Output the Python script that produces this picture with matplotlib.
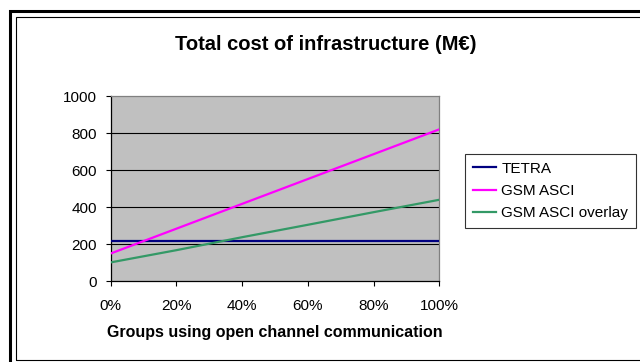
import matplotlib
matplotlib.use("Agg")
import matplotlib.pyplot as plt
from matplotlib.patches import Rectangle
from matplotlib.ticker import PercentFormatter

plt.rcParams['font.family'] = ['Liberation Sans', 'DejaVu Sans']

# share of groups using open channel communication (%)
groups = [0, 20, 40, 60, 80, 100]

# total cost of infrastructure, M€
tetra = [215, 215, 215, 215, 215, 215]
gsm_asci = [150, 284, 418, 552, 686, 820]
gsm_asci_overlay = [102, 168, 238, 305, 373, 440]

series_names = ["TETRA", "GSM ASCI", "GSM ASCI overlay"]
series_colors = ["#000080", "#FF00FF", "#339966"]

y_ticks = [0, 200, 400, 600, 800, 1000]


def px_x(x):
    return x / 640.0


def px_y(y):
    return 1 - y / 362.0


def draw_frame(fig):
    # double border round the whole chart (runs off the right and bottom edge)
    outer = Rectangle((px_x(9.7), px_y(380)), px_x(660) - px_x(9.7), px_y(10.8) - px_y(380),
                      transform=fig.transFigure, fill=False, edgecolor="black",
                      linewidth=2.2, clip_on=False)
    inner = Rectangle((px_x(15.7), px_y(359.8)), px_x(660) - px_x(15.7), px_y(17) - px_y(359.8),
                      transform=fig.transFigure, fill=False, edgecolor="black",
                      linewidth=0.8, clip_on=False)
    fig.patches.append(outer)
    fig.patches.append(inner)


def plot_chart():
    fig = plt.figure(figsize=(6.4, 3.62), dpi=100)
    ax = fig.add_axes([px_x(110.7), px_y(281.3), px_x(439.3) - px_x(110.7), px_y(96) - px_y(281.3)])
    ax.set_facecolor("#C0C0C0")

    for yv in y_ticks[1:-1]:
        ax.axhline(yv, color="black", linewidth=0.8, zorder=1)

    data = [tetra, gsm_asci, gsm_asci_overlay]
    for vals, name, col in zip(data, series_names, series_colors):
        ax.plot(groups, vals, color=col, linewidth=1.6, label=name, zorder=3)

    ax.set_xlim(0, 100)
    ax.set_ylim(0, 1000)
    ax.set_xticks(groups)
    ax.set_yticks(y_ticks)
    ax.xaxis.set_major_formatter(PercentFormatter(decimals=0))
    ax.tick_params(axis='x', length=3.5, width=0.8, pad=9.5, labelsize=11)
    ax.tick_params(axis='y', length=3.5, width=0.8, pad=6.5, labelsize=11)

    ax.spines['left'].set_color("black")
    ax.spines['bottom'].set_color("black")
    ax.spines['top'].set_color("#808080")
    ax.spines['right'].set_color("#808080")
    for s in ax.spines.values():
        s.set_linewidth(0.9)

    leg = fig.legend(loc="upper left", bbox_to_anchor=(px_x(465), px_y(154)),
                     borderaxespad=0, fontsize=11, fancybox=False, frameon=True,
                     handlelength=1.55, handletextpad=0.33, borderpad=0.5,
                     labelspacing=0.55)
    leg.get_frame().set_edgecolor("black")
    leg.get_frame().set_linewidth(0.8)

    fig.text(px_x(326), px_y(50), "Total cost of infrastructure (M€)",
             ha="center", va="baseline", fontsize=14.5, fontweight="bold")
    fig.text(px_x(275), px_y(336.7), "Groups using open channel communication",
             ha="center", va="baseline", fontsize=11.5, fontweight="bold")

    draw_frame(fig)
    fig.savefig("out.png", dpi=100)


if __name__ == "__main__":
    plot_chart()
